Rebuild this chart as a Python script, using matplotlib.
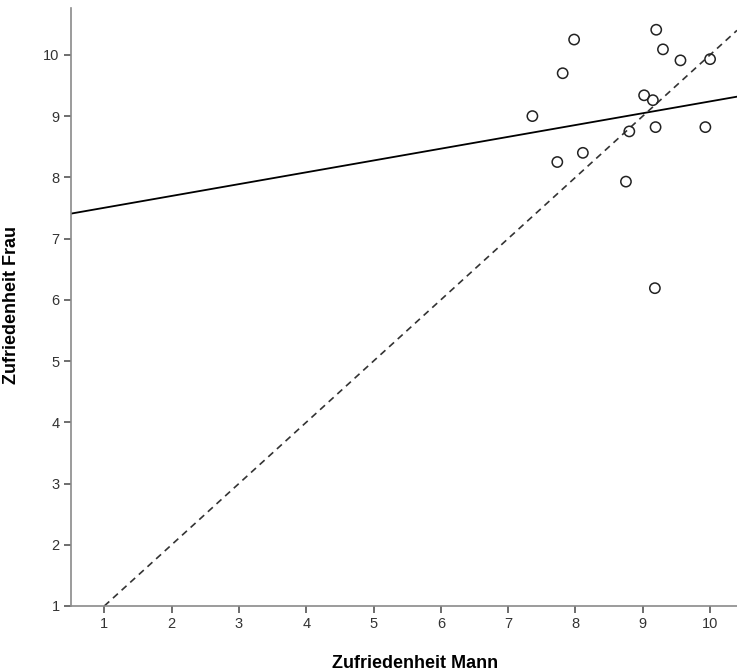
import matplotlib as mpl
import matplotlib.pyplot as plt
import numpy as np

mpl.rc('font', family='Liberation Sans')

# values
mann = [9.20, 7.98, 9.30, 9.56, 10.00, 7.81, 9.02, 9.15, 7.36, 9.19,
        9.93, 8.80, 8.11, 7.73, 8.75, 9.18]
frau = [10.41, 10.25, 10.09, 9.91, 9.93, 9.70, 9.34, 9.26, 9.00, 8.82,
        8.82, 8.75, 8.40, 8.25, 7.93, 6.19]

# fitted line as shown in the chart (intercept, slope)
fit_icpt = 7.31
fit_slope = 0.193

xticks = [1, 2, 3, 4, 5, 6, 7, 8, 9, 10]
yticks = [1, 2, 3, 4, 5, 6, 7, 8, 9, 10]

fig = plt.figure(figsize=(7.37, 6.71), dpi=100)
ax = fig.add_axes([0.0959, 0.0969, 0.9041, 0.8907])

x0, x1 = 0.5, 10.4
y0, y1 = 1.0, 10.76

# regression line
xs = np.array([x0, x1])
ax.plot(xs, fit_icpt + fit_slope * xs, color='black', lw=1.3, zorder=2)

# reference line y = x
ax.plot([1, x1], [1, x1], color='#333333', lw=1.2, linestyle=(0, (4, 3)), zorder=2)

ax.scatter(mann, frau, s=55, facecolors='none', edgecolors='#222222', linewidths=1.1, zorder=3)

ax.set_xlim(x0, x1)
ax.set_ylim(y0, y1)
ax.set_xticks(xticks)
ax.set_yticks(yticks)

for s in ['top', 'right']:
    ax.spines[s].set_visible(False)
for s in ['left', 'bottom']:
    ax.spines[s].set_color('#8a8a8a')
    ax.spines[s].set_linewidth(1.2)
ax.tick_params(direction='out', length=5, width=1.2, color='#555555',
               labelsize=10.5, labelcolor='#333333', pad=3)

ax.set_xlabel('Zufriedenheit Mann', fontsize=13, fontweight='bold')
ax.set_ylabel('Zufriedenheit Frau', fontsize=13, fontweight='bold')
ax.xaxis.set_label_coords(0.517, -0.082)
ax.yaxis.set_label_coords(-0.076, 0.504)

fig.savefig('out.png', dpi=100)
